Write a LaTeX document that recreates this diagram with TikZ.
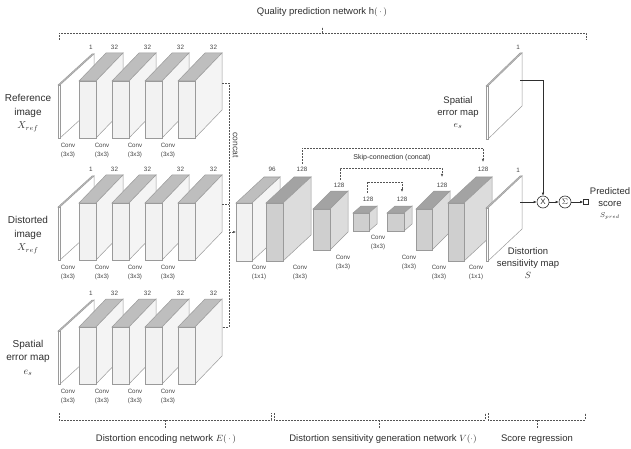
\documentclass[tikz,border=0pt]{standalone}
\usepackage{fontspec}
\setmainfont{Liberation Sans}
\usetikzlibrary{arrows.meta}
\definecolor{edgegray}{HTML}{9A9A9A}
\definecolor{lfront}{HTML}{F2F2F2}
\definecolor{lside}{HTML}{F4F4F4}
\definecolor{ltop}{HTML}{BEBEBE}
\definecolor{dfront}{HTML}{CFCFCF}
\definecolor{dside}{HTML}{DCDCDC}
\definecolor{dtop}{HTML}{A3A3A3}
\definecolor{ptop}{HTML}{C4C4C4}
\definecolor{txtgray}{HTML}{444444}
\definecolor{txtdark}{HTML}{2E2E2E}
\definecolor{dashgray}{HTML}{555555}
% cuboid: x y w h dx dy front side top
\newcommand{\cub}[9]{%
 \filldraw[edgec, fill=#9] (#1,#2) -- ++(#5,-#6) -- ++(#3,0) -- ++(-#5,#6) -- cycle;
 \filldraw[edgec, fill=#8] (#1+#3,#2) -- ++(#5,-#6) -- ++(0,#4) -- ++(-#5,#6) -- cycle;
 \filldraw[edgec, fill=#7] (#1,#2) rectangle ++(#3,#4);
}
\newcommand{\encblk}[2]{\cub{#1}{#2}{17}{57}{27}{28}{lfront}{lside}{ltop}}
\newcommand{\plane}[2]{\cub{#1}{#2}{2}{53}{34}{31}{white}{white}{ptop}}
\begin{document}
\begin{tikzpicture}[x=1pt,y=-1pt,
 edgec/.style={draw=edgegray, line width=0.5pt},
 num/.style={font=\fontsize{6.3}{7}\selectfont, text=txtgray, inner sep=0},
 conv/.style={font=\fontsize{6.2}{8.8}\selectfont, text=txtgray, align=center, inner sep=0},
 big/.style={font=\fontsize{10}{13.5}\selectfont, text=txtdark, align=center, inner sep=0},
 mid/.style={font=\fontsize{9.5}{12}\selectfont, text=txtdark, align=center, inner sep=0},
 dsh/.style={draw=dashgray, line width=0.55pt, dash pattern=on 1.8pt off 1.2pt},
 arr/.style={-{Latex[length=3pt,width=2.6pt]}},
 sol/.style={draw=txtdark, line width=0.6pt},
 circ/.style={circle, draw=txtdark, line width=0.6pt, minimum size=12pt, inner sep=0, font=\fontsize{8}{8}\selectfont, text=txtdark},
 sq/.style={rectangle, draw=txtdark, line width=0.6pt, minimum size=5pt, inner sep=0},
]
\useasboundingbox (0,0) rectangle (631,449);

% ---------- encoder rows ----------
\foreach \r in {0,122,246}{
  \plane{58}{85+\r}
  \encblk{79}{81+\r}
  \encblk{112}{81+\r}
  \encblk{145}{81+\r}
  \encblk{178}{81+\r}
  \node[num] at (91,47+\r) {1};
  \node[num] at (114.5,47+\r) {32};
  \node[num] at (147.5,47+\r) {32};
  \node[num] at (180.5,47+\r) {32};
  \node[num] at (213.5,47+\r) {32};
  \node[conv] at (68,150.5+\r) {Conv\\(3x3)};
  \node[conv] at (102,150.5+\r) {Conv\\(3x3)};
  \node[conv] at (135,150.5+\r) {Conv\\(3x3)};
  \node[conv] at (168,150.5+\r) {Conv\\(3x3)};
}
\node[big] (refimg) at (28,113) {Reference\\image\\$X_{ref}$};
\node[big] (disimg) at (28,235) {Distorted\\image\\$X_{ref}$};
\node[big] (errimg) at (28,358) {Spatial\\error map\\$e_s$};

% ---------- concat ----------
\coordinate (c1) at (222,83);
\coordinate (c2) at (222,204);
\coordinate (c3) at (222,327);
\coordinate (cv1) at (229,83);
\coordinate (cv2) at (229,204);
\coordinate (cv3) at (229,327);
\coordinate (ca) at (229,232);
\coordinate (cb) at (236,232);
\draw[dsh] (c1) -- (cv1) -- (cv3) -- (c3);
\draw[dsh] (c2) -- (cv2);
\draw[dsh,arr] (ca) -- (cb);
\node[font=\fontsize{8.5}{9}\selectfont, text=txtgray, rotate=-90, inner sep=0] (concatlbl) at (235.5,145) {concat};

% ---------- sensitivity generation network ----------
\cub{236}{203}{16}{58}{28}{26}{lfront}{lside}{ltop}
\cub{266}{203}{17}{58}{28}{26}{dfront}{dside}{dtop}
\cub{313}{209}{17}{41}{18}{18}{dfront}{dside}{dtop}
\cub{353}{213}{16}{18}{8}{7}{dfront}{dside}{dtop}
\cub{387}{213}{17}{18}{8}{7}{dfront}{dside}{dtop}
\cub{416}{209}{16}{41}{18}{18}{dfront}{dside}{dtop}
\cub{448}{203}{16}{58}{28}{26}{dfront}{dside}{dtop}
\cub{486}{208}{2}{53}{34}{32}{white}{white}{ptop}
\node[num] at (272,169) {96};
\node[num] at (302,169) {128};
\node[num] at (339,185) {128};
\node[num] at (368,199) {128};
\node[num] at (402,199) {128};
\node[num] at (442,185) {128};
\node[num] at (483,169) {128};
\node[num] at (518,170) {1};
\node[conv] at (259,272.5) {Conv\\(1x1)};
\node[conv] at (300,272.5) {Conv\\(3x3)};
\node[conv] at (343,262.5) {Conv\\(3x3)};
\node[conv] at (378,242.5) {Conv\\(3x3)};
\node[conv] at (409,262.5) {Conv\\(3x3)};
\node[conv] at (439,272.5) {Conv\\(3x3)};
\node[conv] at (476,272.5) {Conv\\(1x1)};

% skip connections
\coordinate (s1a) at (302,164);
\coordinate (s1b) at (483,162);
\coordinate (s2a) at (340,180);
\coordinate (s2b) at (442,177);
\coordinate (s3a) at (367,193);
\coordinate (s3b) at (402,192);
\draw[dsh,arr] (s1a) -- (302,148) -- (483,148) -- (s1b);
\draw[dsh,arr] (s2a) -- (340,168) -- (442,168) -- (s2b);
\draw[dsh,arr] (s3a) -- (367,182) -- (402,182) -- (s3b);
\node[font=\fontsize{7}{8}\selectfont, text=txtdark, inner sep=0] (skiplbl) at (392,158) {Skip-connection (concat)};

% ---------- score regression ----------
\cub{486}{86}{2}{53}{34}{33}{white}{white}{ptop}
\node[num] at (518,47) {1};
\node[mid] (eslbl) at (458,113) {Spatial\\error map\\$e_s$};
\node[mid] (smaplbl) at (528,263) {Distortion\\sensitivity map\\$S$};
\node[circ] (mul) at (543,202) {X};
\node[circ] (sum) at (565,202) {$\Sigma$};
\node[sq] (out) at (586,202) {};
\coordinate (esR) at (520,80);
\coordinate (smR) at (520,202);
\draw[sol,arr] (esR) -| (mul);
\draw[sol,arr] (smR) -- (mul);
\draw[sol,arr] (mul) -- (sum);
\draw[sol,arr] (sum) -- (out);
\node[mid] (predlbl) at (610,203.5) {Predicted\\score\\[-1pt]{\fontsize{7}{8}\selectfont$S_{pred}$}};

% ---------- braces ----------
\draw[dsh] (59,40) -- (59,33) -- (586,33) -- (586,40);
\draw[dsh] (322,33) -- (322,27);
\node[mid] (qlbl) at (322,12) {Quality prediction network $\mathrm{h}(\,\cdot\,)$};

\draw[dsh] (59,413) -- (59,420) -- (271,420) -- (271,413);
\draw[dsh] (165,420) -- (165,428);
\node[mid] (elbl) at (166,439) {Distortion encoding network $E(\,\cdot\,)$};

\draw[dsh] (274,413) -- (274,420) -- (485,420) -- (485,413);
\draw[dsh] (379,420) -- (379,428);
\node[mid] (vlbl) at (383,439.5) {Distortion sensitivity generation network $V(\cdot)$};

\draw[dsh] (488,413) -- (488,420) -- (585,420) -- (585,413);
\draw[dsh] (537,420) -- (537,428);
\node[mid] (slbl) at (537,439.5) {Score regression};
\end{tikzpicture}
\end{document}
